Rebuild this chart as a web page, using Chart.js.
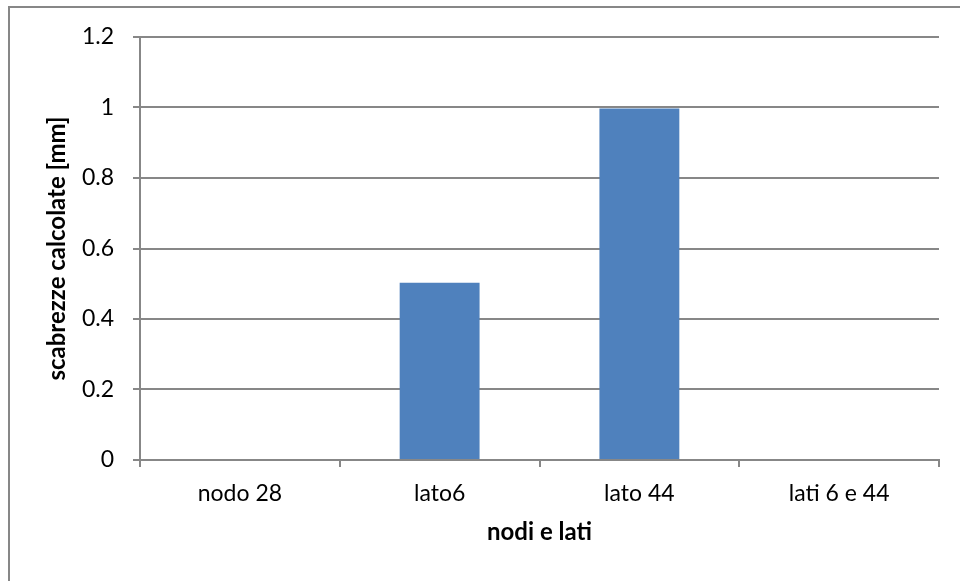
<!DOCTYPE html>
<html lang="it">
<head>
    <meta charset="UTF-8">
    <title>scabrezze calcolate</title>
    <script src="https://cdn.jsdelivr.net/npm/chart.js"></script>
    <style>
        body {
            margin: 0;
            padding: 0;
            background: #fff;
        }
        .chart-box {
            width: 960px;
            height: 581px;
            position: relative;
        }
    </style>
</head>
<body>
    <div class="chart-box">
        <canvas id="roughChart" width="960" height="581"></canvas>
    </div>

    <script>
        // Data
        const categories = ['nodo 28', 'lato6', 'lato 44', 'lati 6 e 44'];
        const roughness = [0, 0.503, 0.997, 0];
        const yTicks = [0, 0.2, 0.4, 0.6, 0.8, 1, 1.2];

        const axisGrey = '#878787';
        const fontFamily = "Lato, 'Open Sans', sans-serif";

        // Outer frame of the chart object (runs off the right and bottom edge)
        const framePlugin = {
            id: 'frame',
            beforeDraw(chart) {
                const ctx = chart.ctx;
                ctx.save();
                ctx.strokeStyle = axisGrey;
                ctx.lineWidth = 2;
                ctx.beginPath();
                ctx.moveTo(9, 600);
                ctx.lineTo(9, 7);
                ctx.lineTo(1000, 7);
                ctx.stroke();
                ctx.restore();
            }
        };

        new Chart(document.getElementById('roughChart'), {
            type: 'bar',
            data: {
                labels: categories,
                datasets: [{
                    label: 'scabrezze calcolate [mm]',
                    data: roughness,
                    backgroundColor: '#4F81BD',
                    borderWidth: 0,
                    barPercentage: 0.4,
                    categoryPercentage: 1.0
                }]
            },
            options: {
                responsive: false,
                animation: false,
                layout: {
                    padding: { left: 0, top: 37, right: 21, bottom: 0 }
                },
                plugins: {
                    legend: { display: false },
                    tooltip: { enabled: false }
                },
                scales: {
                    x: {
                        grid: {
                            offset: true,
                            drawOnChartArea: false,
                            color: axisGrey,
                            lineWidth: 2,
                            tickLength: 7
                        },
                        border: { color: axisGrey, width: 2 },
                        ticks: {
                            color: '#000',
                            padding: 13,
                            font: { family: fontFamily, size: 23 }
                        },
                        title: {
                            display: true,
                            text: 'nodi e lati',
                            color: '#000',
                            padding: { top: 0, bottom: 34 },
                            font: { family: fontFamily, size: 24, weight: 'bold' }
                        },
                        afterFit(scale) { scale.height = 121; }
                    },
                    y: {
                        min: 0,
                        max: 1.2,
                        afterBuildTicks(scale) {
                            scale.ticks = yTicks.map(v => ({ value: v }));
                        },
                        grid: {
                            color: axisGrey,
                            lineWidth: 2,
                            tickLength: 7
                        },
                        border: { color: axisGrey, width: 2 },
                        ticks: {
                            color: '#000',
                            padding: 19,
                            font: { family: fontFamily, size: 23 },
                            callback: v => String(Math.round(v * 10) / 10)
                        },
                        title: {
                            display: true,
                            text: 'scabrezze calcolate [mm]',
                            color: '#000',
                            padding: { top: 43, bottom: 0 },
                            font: { family: fontFamily, size: 24, weight: 'bold' }
                        },
                        afterFit(scale) { scale.width = 140; }
                    }
                }
            },
            plugins: [framePlugin]
        });
    </script>
</body>
</html>
